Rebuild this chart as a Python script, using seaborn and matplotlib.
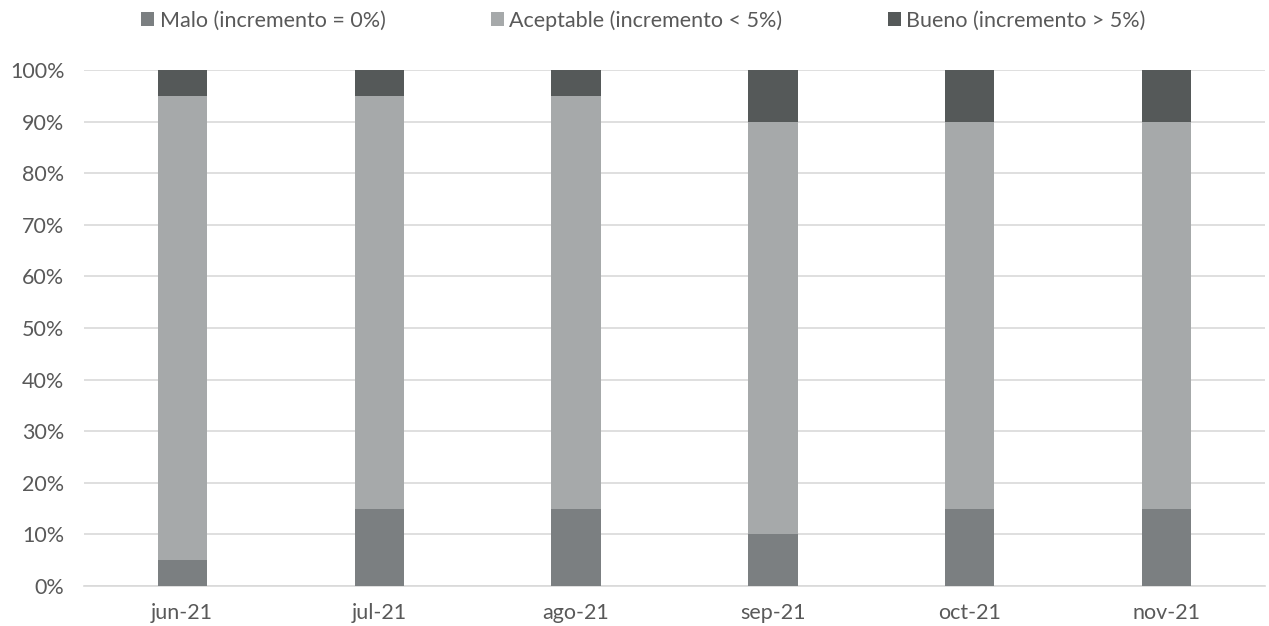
import matplotlib
matplotlib.use("Agg")
import matplotlib.pyplot as plt
import seaborn as sns
import pandas as pd
import numpy as np
from matplotlib.patches import Patch
from matplotlib.ticker import FixedLocator, PercentFormatter

categories = ["jun-21", "jul-21", "ago-21", "sep-21", "oct-21", "nov-21"]
malo = [5, 15, 15, 10, 15, 15]
aceptable = [90, 80, 80, 80, 75, 75]
bueno = [5, 5, 5, 10, 10, 10]
labels = ["Malo (incremento = 0%)", "Aceptable (incremento < 5%)", "Bueno (incremento > 5%)"]
colors = ["#7b7f81", "#a6a9aa", "#555959"]

sns.set_theme(style="white")
plt.rcParams['font.family'] = ['Lato', 'DejaVu Sans']
text_color = "#595959"
fs = 15.5

fig = plt.figure(figsize=(12.69, 6.26), dpi=100)
ax = fig.add_axes([0.066, 0.064, 0.931, 0.824])

cum1 = np.array(malo)
cum2 = cum1 + np.array(aceptable)
cum3 = cum2 + np.array(bueno)

df = pd.DataFrame({"cat": categories, "c1": cum1, "c2": cum2, "c3": cum3})
for col, color in zip(["c3", "c2", "c1"], [colors[2], colors[1], colors[0]]):
    sns.barplot(data=df, x="cat", y=col, color=color, width=0.25, ax=ax,
                saturation=1, edgecolor="none", linewidth=0, zorder=3)

ax.set_xlim(-0.5, 5.5)
ax.set_ylim(0, 100)
ax.set_yticks(np.arange(0, 101, 10))
ax.yaxis.set_major_formatter(PercentFormatter(decimals=0))
ax.grid(axis="y", color="#d9d9d9", linewidth=1.2, zorder=0)
ax.set_axisbelow(True)
for s in ["top", "right", "left"]:
    ax.spines[s].set_visible(False)
ax.spines["bottom"].set_color("#d9d9d9")
ax.spines["bottom"].set_linewidth(1.2)
ax.set_xlabel("")
ax.set_ylabel("")
ax.tick_params(axis="x", which="major", length=0, labelsize=fs, labelcolor=text_color, pad=12)
ax.tick_params(axis="y", length=0, labelsize=fs, labelcolor=text_color, pad=14)
ax.xaxis.set_minor_locator(FixedLocator(np.arange(-0.5, 6, 1.0)))
ax.tick_params(axis="x", which="minor", length=8, color="#d9d9d9", width=1.2)

handles = [Patch(facecolor=c, edgecolor="none") for c in colors]
fig.legend(handles, labels, loc="upper center", bbox_to_anchor=(0.507, 1.015), ncol=3,
           frameon=False, fontsize=fs, labelcolor=text_color, handlelength=0.6,
           handleheight=0.6, handletextpad=0.25, columnspacing=4.9)

fig.savefig("out.png", dpi=100)
